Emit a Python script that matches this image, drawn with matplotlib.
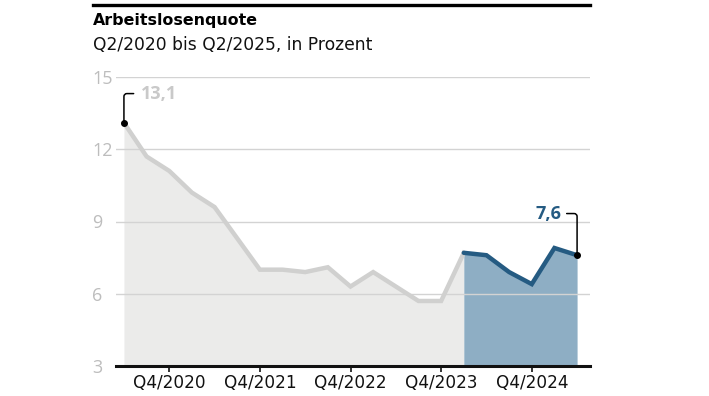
import matplotlib
matplotlib.use("Agg")
import matplotlib.pyplot as plt
import numpy as np

# Arbeitslosenquote, Q2/2020 bis Q2/2025
quarters = ["Q2/2020", "Q3/2020", "Q4/2020", "Q1/2021", "Q2/2021", "Q3/2021", "Q4/2021",
            "Q1/2022", "Q2/2022", "Q3/2022", "Q4/2022", "Q1/2023", "Q2/2023", "Q3/2023",
            "Q4/2023", "Q1/2024", "Q2/2024", "Q3/2024", "Q4/2024", "Q1/2025", "Q2/2025"]
rate = [13.1, 11.7, 11.1, 10.2, 9.6, 8.3, 7.0, 7.0, 6.9, 7.1, 6.3, 6.9, 6.3, 5.7,
        5.7, 7.7, 7.6, 6.9, 6.4, 7.9, 7.6]
highlight_from = "Q1/2024"
xtick_labels = ["Q4/2020", "Q4/2021", "Q4/2022", "Q4/2023", "Q4/2024"]
yticks = [3, 6, 9, 12, 15]

GREY_LINE = "#d0d0cf"
GREY_FILL = "#ebebea"
BLUE_LINE = "#255b82"
BLUE_FILL = "#8eaec4"
GRID = "#d3d3d3"
NUM_FONT = ["Open Sans", "DejaVu Sans"]

plt.rcParams["font.family"] = ["DejaVu Sans"]

x = np.arange(len(quarters))
y = np.array(rate)
h = quarters.index(highlight_from)

fig = plt.figure(figsize=(7.09, 3.96), dpi=100)
ax = fig.add_axes([116 / 709, 1 - 366 / 396, 474 / 709, 289 / 396])

ax.fill_between(x[: h + 1], y[: h + 1], 3, color=GREY_FILL, lw=0, zorder=1)
ax.fill_between(x[h:], y[h:], 3, color=BLUE_FILL, lw=0, zorder=1)
ax.plot(x[: h + 1], y[: h + 1], color=GREY_LINE, lw=3.2, solid_joinstyle="miter", zorder=3)
ax.plot(x[h:], y[h:], color=BLUE_LINE, lw=3.2, solid_joinstyle="miter",
        solid_capstyle="round", zorder=4)

ax.set_xlim(-0.35, 20.57)
ax.set_ylim(3, 15)
ax.set_yticks(yticks)
ax.set_yticklabels([str(v) for v in yticks], color="#bdbdbd", fontsize=13,
                   family=NUM_FONT)
for lab in ax.get_yticklabels():
    lab.set_horizontalalignment("left")
ax.tick_params(axis="y", length=0, pad=17)
ax.set_xticks([quarters.index(q) for q in xtick_labels])
ax.set_xticklabels(xtick_labels, fontsize=12.2, color="#111111")
ax.tick_params(axis="x", length=4, width=1.2, color="#111111", pad=2)
ax.grid(axis="y", color=GRID, lw=1, zorder=2)
ax.set_axisbelow(False)
for s in ["top", "right", "left"]:
    ax.spines[s].set_visible(False)
ax.spines["bottom"].set_color("#111111")
ax.spines["bottom"].set_linewidth(2.2)
ax.spines["bottom"].set_zorder(5)
ax.set_facecolor("none")

# Markierungen erster und letzter Wert
ax.plot([x[0], x[-1]], [y[0], y[-1]], "o", color="black", ms=4, zorder=6, clip_on=False)
ax.annotate(f"{rate[0]:.1f}".replace(".", ","), xy=(x[0], y[0]), xytext=(12, 21),
            textcoords="offset points", ha="left", va="center", fontsize=13,
            fontweight="bold", color="#c9c9c9", family=NUM_FONT,
            arrowprops=dict(arrowstyle="-", color="black", lw=1.1, shrinkA=3, shrinkB=0,
                            relpos=(0, 0.5),
                            connectionstyle="angle,angleA=0,angleB=90,rad=3"),
            zorder=6)
ax.annotate(f"{rate[-1]:.1f}".replace(".", ","), xy=(x[-1], y[-1]), xytext=(-11.5, 30),
            textcoords="offset points", ha="right", va="center", fontsize=13,
            fontweight="bold", color=BLUE_LINE, family=NUM_FONT,
            arrowprops=dict(arrowstyle="-", color="black", lw=1.1, shrinkA=2, shrinkB=0,
                            relpos=(1, 0.5),
                            connectionstyle="angle,angleA=0,angleB=90,rad=3"),
            zorder=6)

# Kopfzeile
fig.add_artist(plt.Line2D([93 / 709, 590 / 709], [1 - 5 / 396, 1 - 5 / 396],
                          color="black", lw=2.4))
fig.text(93 / 709, 1 - 21 / 396, "Arbeitslosenquote", fontsize=11.4, fontweight="bold",
         ha="left", va="center", color="black")
fig.text(93 / 709, 1 - 45 / 396, "Q2/2020 bis Q2/2025, in Prozent", fontsize=12.3,
         ha="left", va="center", color="#111111")

fig.savefig("out.png", dpi=100)
